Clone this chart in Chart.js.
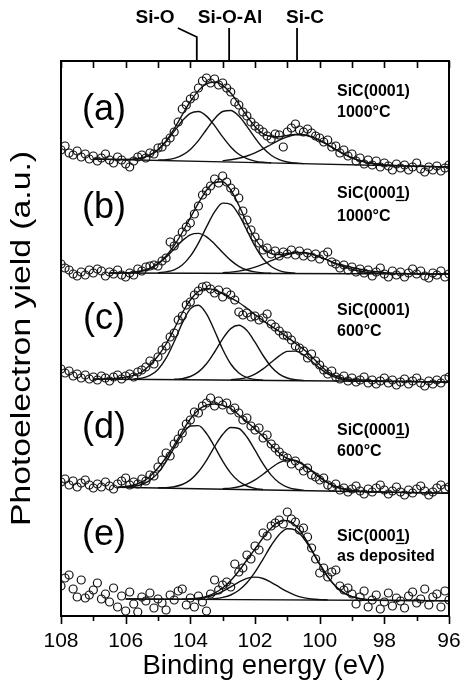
<!DOCTYPE html>
<html><head><meta charset="utf-8">
<script src="https://cdn.jsdelivr.net/npm/chart.js@4.4.0/dist/chart.umd.min.js"></script>
<style>html,body{margin:0;padding:0;background:#fff;}canvas{display:block;}</style>
</head><body>
<canvas id="c" width="461" height="684"></canvas>
<script>
// ---------- axis / labels ----------
const xTickLabels = [108, 106, 104, 102, 100, 98, 96];
const xMinorTicks = [107, 105, 103, 101, 99, 97];
const xTitle = 'Binding energy (eV)';
const yTitle = 'Photoelectron yield (a.u.)';
const panelLetters = ['(a)', '(b)', '(c)', '(d)', '(e)'];
const sampleName = ['SiC(0001)', 'SiC(0001)', 'SiC(0001)', 'SiC(0001)', 'SiC(0001)'];
const sampleUnderlineLast = [false, true, false, true, true];
const sampleCond = ['1000°C', '1000°C', '600°C', '600°C', 'as deposited'];
const bondLabels = ['Si-O', 'Si-O-Al', 'Si-C'];
const bondEnergies = [103.8, 102.8, 100.7];

// ---------- measured points: energies 108 -> 96 eV, step 0.125 eV ----------
const dataStart = 108, dataStep = 0.125;
const dataA = [466,470,463,461,465,459,462,457,460,455,458,462,456,453,459,456,452,449,455,459,461,458,463,462,468,469,474,478,484,494,507,511,517,520,528,535,538,533,537,531,533,528,524,514,511,504,500,494,490,487,484,480,477,482,481,469,484,488,492,486,484,487,483,480,478,474,476,469,470,463,466,460,462,455,458,452,456,451,455,449,453,450,446,452,448,451,446,449,453,447,444,449,446,450,445,448,451];
const dataB = [352,348,346,342,340,344,341,346,343,347,345,340,344,342,346,341,339,343,341,347,345,349,350,351,350,355,358,374,370,377,384,389,393,402,410,421,425,430,437,433,440,434,428,424,418,405,396,386,379,373,366,368,362,365,360,364,362,366,361,365,360,363,359,362,357,361,364,354,352,348,351,346,349,344,347,343,346,340,344,348,342,339,345,341,344,339,343,347,342,345,340,338,343,341,345,339,342];
const dataC = [247,243,245,240,242,238,241,237,239,236,240,238,235,239,241,237,240,242,239,244,246,249,255,252,259,266,270,279,283,296,300,311,314,321,325,329,330,327,323,326,319,324,321,316,304,301,303,299,300,296,298,302,292,289,285,281,280,276,270,268,265,258,262,255,251,246,242,245,239,237,240,235,238,234,236,239,233,236,232,235,238,233,236,231,234,237,232,235,238,233,230,235,232,236,233,237,239];
const dataD = [134,137,131,135,129,133,136,131,128,132,129,134,130,127,132,135,138,131,134,132,137,135,141,140,149,156,163,160,172,177,183,192,196,204,203,210,213,218,210,215,211,213,206,208,203,196,198,190,186,188,178,181,172,168,164,160,158,152,155,150,145,148,141,139,136,138,131,129,132,126,128,124,127,130,125,122,127,124,128,131,126,122,125,129,124,121,126,123,127,130,125,121,124,128,131,127,129];
const dataE = [30,38,41,27,19,36,18,21,26,33,17,22,14,28,9,20,5,24,12,4,19,15,23,8,17,13,6,21,16,25,27,11,18,9,20,14,5,22,36,26,31,34,29,52,44,48,61,57,70,66,83,80,90,93,96,92,104,97,94,86,88,79,68,57,43,48,39,44,46,30,26,28,22,12,19,25,9,16,21,7,14,23,10,18,15,8,20,24,13,17,27,11,19,22,9,25,16];

// ---------- fitted curves: values every 0.25 eV, starting at the given energy ----------
const fitStep = 0.25;
// (a)
const baseA = [[107, 457], [96, 449]];
const sumA_from = 107;
const sumA = [457.0,456.8,456.6,456.5,456.5,456.9,458.1,461.0,466.4,475.1,487.1,501.1,514.5,525.4,532.1,534.0,530.7,523.0,511.9,499.8,489.4,482.3,479.4,479.3,480.6,481.6,481.3,479.2,475.7,471.2,466.4,461.9,458.2,455.4,453.3,452.0,451.1,450.6,450.2,449.9,449.7,449.6,449.4,449.2,449.0];
const a1_from = 106.0, a1 = [456.5,456.9,458.1,460.9,466.1,474.2,484.6,495.2,502.7,504.5,499.9,490.4,479.1,469.1,461.7,457.3,454.9,453.7,453.2];
const a2_from = 105.0, a2 = [455.9,456.3,457.7,460.9,466.6,475.4,486.5,497.3,504.5,505.5,499.9,489.7,478.1,467.9,460.7,456.3,454.0,453.0,452.4];
const a3_from = 103.0, a3 = [455.3,456.2,457.7,460.0,463.2,467.1,471.5,475.8,479.2,481.1,481.1,479.2,475.7,471.2,466.4,461.9,458.2,455.4,453.3,452.0,451.1,450.6,450.2];
// (b)
const baseB = [[106.5, 343], [96, 342]];
const sumB_from = 106.5;
const sumB = [343.0,343.1,343.2,343.8,345.0,347.7,352.4,360.0,370.5,383.5,398.2,412.8,425.7,433.8,434.3,426.0,410.7,393.0,377.5,367.2,362.4,361.5,362.5,363.5,363.4,361.9,359.2,355.8,352.3,350.5,348.5,346.8,345.3,344.2,343.4,342.9,342.5,342.3,342.1,342.1,342.0,342.0,342.0];
const b1_from = 106.0, b1 = [343.2,343.8,345.0,347.6,352.1,358.7,367.1,375.3,381.2,382.6,379.2,372.1,363.5,355.6,349.7,346.0,344.1,343.1,342.7];
const b2_from = 105.0, b2 = [343.2,344.1,346.2,351.0,359.8,372.9,389.1,404.1,412.9,411.7,401.3,385.7,369.8,357.3,349.5,345.3,343.5,342.8];
const b3_from = 103.0, b3 = [343.3,343.9,344.9,346.5,348.8,351.8,355.3,358.7,361.5,363.2,363.3,361.9,359.2,355.8,352.3,349.1,346.6,344.8,343.6,342.9,342.5];
// (c)
const baseC = [[107, 237], [96, 234]];
const sumC_from = 107;
const sumC = [236.8,236.9,237.2,237.9,238.9,240.6,244.0,251.0,260.0,272.0,287.0,303.0,316.0,324.5,327.5,326.0,322.5,318.0,313.5,307.7,301.5,295.4,289.8,284.7,278.9,272.8,266.7,259.5,251.3,244.3,240.0,237.6,236.6,236.0,235.5,235.2,235.0,234.8,234.7,234.6,234.5,234.3,234.2,234.1,234.0];
const c1_from = 105.75, c1 = [237.0,237.9,240.6,246.6,257.8,274.3,292.9,307.1,310.8,302.2,285.3,266.7,252.0,243.0,238.4,236.5,235.8];
const c2_from = 104.5, c2 = [236.7,237.4,239.5,244.1,252.2,264.0,277.2,287.4,290.7,285.4,273.8,260.5,249.3,241.9,238.0,236.2,235.5];
const c3_from = 102.75, c3 = [236.3,237.0,238.7,241.9,247.1,253.7,260.2,264.6,264.9,261.2,254.8,247.9,242.2,238.5,236.3,235.3,234.9];
// (d)
const baseD = [[106.25, 128.7], [96, 122.7]];
const sumD_from = 106.25;
const sumD = [128.8,129.5,131.0,133.8,139.5,148.0,158.5,171.0,184.5,197.0,206.0,210.8,212.0,210.7,207.5,201.0,194.0,187.0,179.5,171.0,163.0,157.5,155.5,151.5,145.5,139.0,133.5,129.5,127.0,125.5,124.8,124.3,124.0,123.9,123.7,123.6,123.4,123.3,123.1,123.0,122.8,122.7];
const d1_from = 106.0, d1 = [129.0,129.6,131.5,135.6,143.1,154.4,168.3,181.6,190.0,190.4,182.5,169.3,154.9,142.9,134.7,130.0,127.6,126.5];
const d2_from = 105.0, d2 = [128.2,128.4,129.3,131.5,136.1,144.2,155.7,169.4,181.5,188.5,187.5,179.0,165.8,152.1,140.9,133.3,128.9,126.7,125.8];
const d3_from = 103.0, d3 = [127.3,127.9,129.3,131.9,136.1,141.8,148.0,153.3,155.9,155.2,151.1,145.0,138.6,133.1,129.1,126.7,125.3,124.7];
// (e)
const baseE = [[106, 17.0], [96, 15.3]];
const sumE_from = 106;
const sumE = [17.0,17.0,16.9,16.9,16.8,16.8,16.8,16.8,17.0,17.7,19.5,22.8,28.0,35.5,45.0,56.0,67.0,78.3,88.0,94.3,95.4,90.5,80.3,66.5,52.1,39.4,29.6,23.1,19.3,17.3,16.3,15.9,15.7,15.6,15.6,15.5,15.5,15.4,15.4,15.3,15.3];
const e1_from = 104.25, e1 = [16.8,17.0,17.6,18.9,21.1,24.6,29.2,33.9,37.6,38.9,37.5,33.7,28.9,24.3,20.7,18.4,17.0,16.4,16.1];
const e2_from = 103.5, e2 = [16.9,17.4,18.6,21.0,25.7,33.2,43.8,56.9,70.5,81.6,87.3,85.9,78.0,65.5,51.7,39.2,29.6,23.1,19.3,17.3,16.3,15.9];

// ---------- build datasets ----------
const FONT = '"Liberation Sans", Arial, Helvetica, sans-serif';
const toPts = (from, step, vals) => vals.map((v, i) => ({x: +(from - i * step).toFixed(4), y: v}));
const linePts = pairs => pairs.map(p => ({x: p[0], y: p[1]}));

const datasets = [];
function addLine(points){
  datasets.push({data: points, showLine: true, pointRadius: 0, borderColor: '#111', borderWidth: 1.4,
    fill: false, cubicInterpolationMode: 'monotone', clip: 0, order: 2});
}
function addScatter(vals){
  datasets.push({data: toPts(dataStart, dataStep, vals), showLine: false, pointRadius: 4, pointHoverRadius: 4,
    pointBorderWidth: 1.2, borderColor: '#111', backgroundColor: 'rgba(0,0,0,0)', pointStyle: 'circle', clip: 0, order: 1});
}
const panels = [
  {data: dataA, base: baseA, sum: [sumA_from, sumA], comps: [[a1_from, a1], [a2_from, a2], [a3_from, a3]]},
  {data: dataB, base: baseB, sum: [sumB_from, sumB], comps: [[b1_from, b1], [b2_from, b2], [b3_from, b3]]},
  {data: dataC, base: baseC, sum: [sumC_from, sumC], comps: [[c1_from, c1], [c2_from, c2], [c3_from, c3]]},
  {data: dataD, base: baseD, sum: [sumD_from, sumD], comps: [[d1_from, d1], [d2_from, d2], [d3_from, d3]]},
  {data: dataE, base: baseE, sum: [sumE_from, sumE], comps: [[e1_from, e1], [e2_from, e2]]}
];
panels.forEach(p => {
  addLine(linePts(p.base));
  p.comps.forEach(c => addLine(toPts(c[0], fitStep, c[1])));
  addLine(toPts(p.sum[0], fitStep, p.sum[1]));
  addScatter(p.data);
});

// ---------- decorations drawn with the chart's own scales ----------
const letterY = [110, 208, 319, 428, 535];
const sampleY = [[96, 117], [198, 221], [315, 336], [435, 456], [541, 561]];
const decor = {
  id: 'decor',
  afterDraw(chart){
    const ctx = chart.ctx, a = chart.chartArea, xs = chart.scales.x;
    ctx.save();
    ctx.strokeStyle = '#000'; ctx.fillStyle = '#000';
    // frame
    ctx.lineWidth = 2;
    ctx.strokeRect(a.left, a.top, a.right - a.left, a.bottom - a.top);
    // ticks
    ctx.lineWidth = 1.6;
    ctx.beginPath();
    xTickLabels.forEach(v => {
      const px = Math.round(xs.getPixelForValue(v)) + 0.5;
      ctx.moveTo(px, a.bottom); ctx.lineTo(px, a.bottom + 8);
      ctx.moveTo(px, a.top); ctx.lineTo(px, a.top + 7);
    });
    xMinorTicks.forEach(v => {
      const px = Math.round(xs.getPixelForValue(v)) + 0.5;
      ctx.moveTo(px, a.bottom); ctx.lineTo(px, a.bottom + 5);
      ctx.moveTo(px, a.top); ctx.lineTo(px, a.top + 7);
    });
    ctx.stroke();
    // tick labels
    ctx.font = '21px ' + FONT;
    ctx.textAlign = 'center'; ctx.textBaseline = 'alphabetic';
    xTickLabels.forEach(v => ctx.fillText(String(v), xs.getPixelForValue(v), a.bottom + 31));
    // axis titles
    ctx.font = '27.5px ' + FONT;
    ctx.fillText(xTitle, 264, 674);
    ctx.save();
    ctx.translate(30, (a.top + a.bottom) / 2);
    ctx.rotate(-Math.PI / 2);
    ctx.font = '27px ' + FONT;
    ctx.scale(1.25, 1);
    ctx.fillText(yTitle, 0, 0);
    ctx.restore();
    // bond markers on top axis
    ctx.lineWidth = 1.8;
    ctx.beginPath();
    bondEnergies.forEach((e, i) => {
      const px = xs.getPixelForValue(e);
      if (i === 0) { ctx.moveTo(px, a.top); ctx.lineTo(px, a.top - 24); ctx.lineTo(px - 19, a.top - 33); }
      else { ctx.moveTo(px, a.top); ctx.lineTo(px, a.top - 33); }
    });
    ctx.stroke();
    ctx.font = 'bold 19px ' + FONT;
    const bondCx = [155, 230, 305];
    bondLabels.forEach((t, i) => ctx.fillText(t, bondCx[i], 23));
    // panel letters
    ctx.font = '36px ' + FONT;
    ctx.textBaseline = 'middle';
    panelLetters.forEach((t, i) => ctx.fillText(t, 104, letterY[i]));
    // sample labels
    ctx.font = 'bold 16px ' + FONT;
    ctx.textAlign = 'left'; ctx.textBaseline = 'alphabetic';
    ctx.lineWidth = 1.3;
    sampleName.forEach((t, i) => {
      const x0 = 337, y1 = sampleY[i][0], y2 = sampleY[i][1];
      ctx.fillText(t, x0, y1);
      if (sampleUnderlineLast[i]) {
        const pre = t.slice(0, t.length - 2);
        const w0 = ctx.measureText(pre).width, w1 = ctx.measureText(t.slice(t.length - 2, t.length - 1)).width;
        ctx.beginPath(); ctx.moveTo(x0 + w0, y1 + 2.5); ctx.lineTo(x0 + w0 + w1, y1 + 2.5); ctx.stroke();
      }
      ctx.fillText(sampleCond[i], x0, y2);
    });
    ctx.restore();
  }
};

new Chart(document.getElementById('c'), {
  type: 'scatter',
  data: {datasets},
  options: {
    responsive: false, animation: false, devicePixelRatio: 1,
    events: [],
    layout: {padding: {left: 61, right: 12, top: 61, bottom: 68}},
    plugins: {legend: {display: false}, tooltip: {enabled: false}},
    scales: {
      x: {type: 'linear', min: 96, max: 108, reverse: true, display: false},
      y: {type: 'linear', min: 0, max: 555, display: false}
    }
  },
  plugins: [decor]
});
</script>
</body></html>
